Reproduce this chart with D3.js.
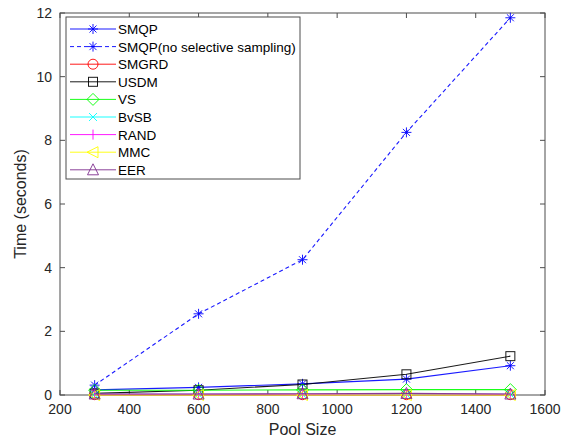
<!DOCTYPE html>
<html>
<head>
<meta charset="utf-8">
<script src="https://cdn.jsdelivr.net/npm/d3@7"></script>
<style>
  body { margin: 0; background: #fff; }
  svg { display: block; font-family: "Liberation Sans", Arial, sans-serif; }
</style>
</head>
<body>
<svg id="chart" width="569" height="439"></svg>
<script>
// Pool sizes on the x axis
const poolSizes = [300, 600, 900, 1200, 1500];

// Time in seconds per method
const smqp = [0.16, 0.24, 0.35, 0.50, 0.92];
const smqpNoSel = [0.31, 2.55, 4.25, 8.25, 11.85];
const smgrd = [0.01, 0.01, 0.01, 0.01, 0.01];
const usdm = [0.05, 0.15, 0.33, 0.65, 1.22];
const vs = [0.15, 0.15, 0.16, 0.17, 0.17];
const bvsb = [0.02, 0.02, 0.02, 0.02, 0.02];
const rand = [0.02, 0.02, 0.02, 0.03, 0.02];
const mmc = [0.0, 0.0, 0.0, 0.0, 0.0];
const eer = [0.03, 0.03, 0.04, 0.05, 0.03];

const xTicks = [200, 400, 600, 800, 1000, 1200, 1400, 1600];
const yTicks = [0, 2, 4, 6, 8, 10, 12];

const series = [
  { name: 'SMQP', values: smqp, color: '#0000ff', marker: 'star', dash: null },
  { name: 'SMQP(no selective sampling)', values: smqpNoSel, color: '#0000ff', marker: 'star', dash: '4 3' },
  { name: 'SMGRD', values: smgrd, color: '#ff0000', marker: 'circle', dash: null },
  { name: 'USDM', values: usdm, color: '#000000', marker: 'square', dash: null },
  { name: 'VS', values: vs, color: '#00ff00', marker: 'diamond', dash: null },
  { name: 'BvSB', values: bvsb, color: '#00ffff', marker: 'x', dash: null },
  { name: 'RAND', values: rand, color: '#ff00ff', marker: 'vbar', dash: null },
  { name: 'MMC', values: mmc, color: '#ffff00', marker: 'tleft', dash: null },
  { name: 'EER', values: eer, color: '#7e2f8e', marker: 'tup', dash: null }
];

const svg = d3.select('#chart');
const margin = { top: 13, right: 24, bottom: 44, left: 60 };
const W = 569, H = 439;
const iw = W - margin.left - margin.right;
const ih = H - margin.top - margin.bottom;
const axisColor = '#4d4d4d';

const x = d3.scaleLinear().domain([200, 1600]).range([0, iw]);
const y = d3.scaleLinear().domain([0, 12]).range([ih, 0]);

const g = svg.append('g').attr('transform', `translate(${margin.left},${margin.top})`);

// ticks, inside, on all four sides
xTicks.forEach(v => {
  g.append('line').attr('x1', x(v)).attr('x2', x(v)).attr('y1', ih).attr('y2', ih - 5)
    .attr('stroke', axisColor);
  g.append('line').attr('x1', x(v)).attr('x2', x(v)).attr('y1', 0).attr('y2', 5)
    .attr('stroke', axisColor);
  g.append('text').attr('x', x(v)).attr('y', ih + 19)
    .attr('text-anchor', 'middle').attr('font-size', '14px').attr('fill', '#262626')
    .text(v);
});
yTicks.forEach(v => {
  g.append('line').attr('x1', 0).attr('x2', 5).attr('y1', y(v)).attr('y2', y(v))
    .attr('stroke', axisColor);
  g.append('line').attr('x1', iw).attr('x2', iw - 5).attr('y1', y(v)).attr('y2', y(v))
    .attr('stroke', axisColor);
  g.append('text').attr('x', -8).attr('y', y(v) + 5)
    .attr('text-anchor', 'end').attr('font-size', '14px').attr('fill', '#262626')
    .text(v);
});

g.append('rect').attr('x', 0).attr('y', 0).attr('width', iw).attr('height', ih)
  .attr('fill', 'none').attr('stroke', axisColor).attr('stroke-width', 1);

// axis titles
g.append('text').attr('x', iw / 2).attr('y', ih + 40)
  .attr('text-anchor', 'middle').attr('font-size', '16px').attr('fill', '#262626')
  .text('Pool Size');
g.append('text').attr('transform', 'rotate(-90)')
  .attr('x', -ih / 2).attr('y', -34)
  .attr('text-anchor', 'middle').attr('font-size', '16px').attr('fill', '#262626')
  .text('Time (seconds)');

function drawMarker(sel, type, color) {
  const s = 5;
  if (type === 'star') {
    sel.append('path').attr('d', `M${-s},0H${s}M0,${-s}V${s}M${-s*0.7},${-s*0.7}L${s*0.7},${s*0.7}M${-s*0.7},${s*0.7}L${s*0.7},${-s*0.7}`)
      .attr('stroke', color).attr('fill', 'none');
  } else if (type === 'circle') {
    sel.append('circle').attr('r', s).attr('stroke', color).attr('fill', 'none');
  } else if (type === 'square') {
    sel.append('rect').attr('x', -4.5).attr('y', -4.5).attr('width', 9).attr('height', 9)
      .attr('stroke', color).attr('fill', 'none');
  } else if (type === 'diamond') {
    sel.append('path').attr('d', `M0,${-6}L6,0L0,6L-6,0Z`).attr('stroke', color).attr('fill', 'none');
  } else if (type === 'x') {
    sel.append('path').attr('d', `M-4,-4L4,4M-4,4L4,-4`).attr('stroke', color).attr('fill', 'none');
  } else if (type === 'vbar') {
    sel.append('path').attr('d', `M0,-5V5`).attr('stroke', color).attr('fill', 'none');
  } else if (type === 'tleft') {
    sel.append('path').attr('d', `M-6,0L5,-5.5L5,5.5Z`).attr('stroke', color).attr('fill', 'none');
  } else if (type === 'tup') {
    sel.append('path').attr('d', `M0,-6L5.5,5L-5.5,5Z`).attr('stroke', color).attr('fill', 'none');
  }
}

const line = d3.line().x((d, i) => x(poolSizes[i])).y(d => y(d));

series.forEach(s => {
  g.append('path').datum(s.values)
    .attr('d', line)
    .attr('fill', 'none')
    .attr('stroke', s.color)
    .attr('stroke-opacity', 0.9)
    .attr('stroke-width', 1.1)
    .attr('stroke-dasharray', s.dash);
  s.values.forEach((v, i) => {
    const m = g.append('g').attr('transform', `translate(${x(poolSizes[i])},${y(v)})`)
      .attr('opacity', 0.9);
    drawMarker(m, s.marker, s.color);
  });
});

// legend
const lg = svg.append('g').attr('transform', 'translate(66,17)');
lg.append('rect').attr('x', 0).attr('y', 0).attr('width', 234).attr('height', 162)
  .attr('fill', '#fff').attr('stroke', axisColor);
series.forEach((s, i) => {
  const yy = 12 + i * 17.6;
  lg.append('line').attr('x1', 4).attr('x2', 50).attr('y1', yy).attr('y2', yy)
    .attr('stroke', s.color).attr('stroke-opacity', 0.9).attr('stroke-dasharray', s.dash);
  const m = lg.append('g').attr('transform', `translate(27,${yy})`).attr('opacity', 0.9);
  drawMarker(m, s.marker, s.color);
  lg.append('text').attr('x', 52).attr('y', yy + 5)
    .attr('font-size', '13.5px').attr('fill', '#000')
    .text(s.name);
});
</script>
</body>
</html>
